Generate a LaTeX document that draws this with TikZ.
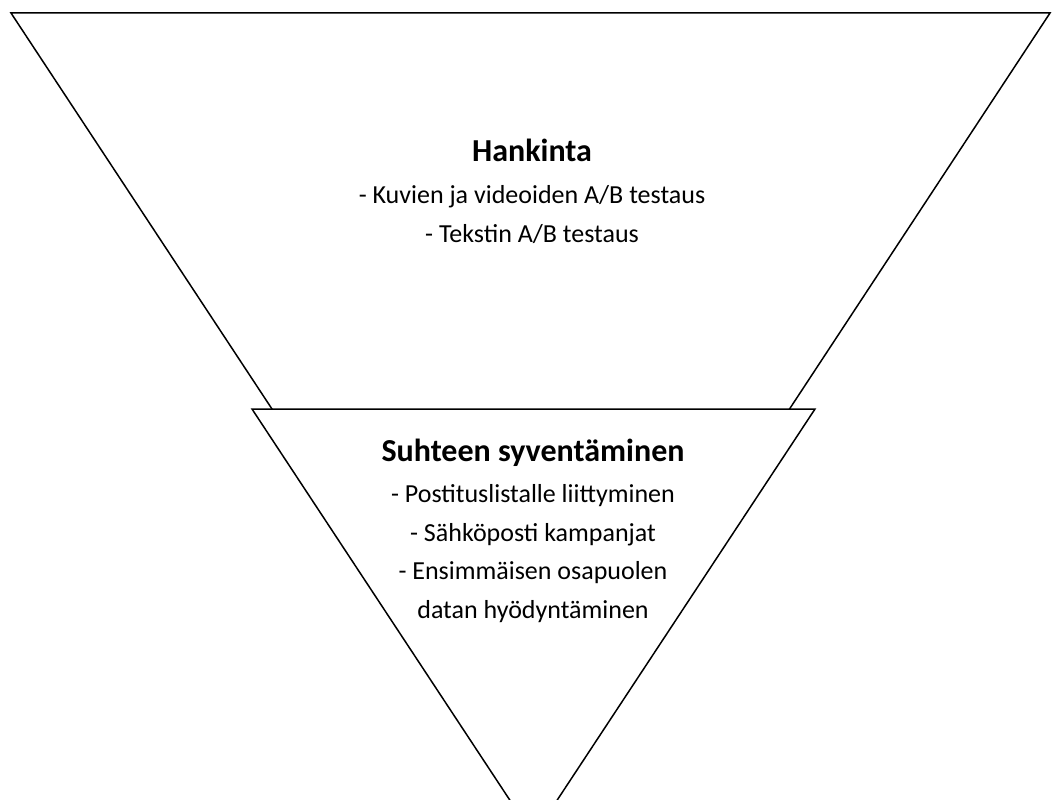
\documentclass[tikz,border=0pt]{standalone}
\usepackage{fontspec}
\setmainfont{Carlito}
\usepackage{tikz}
\usetikzlibrary{positioning}

\tikzset{
    heading/.style={font=\bfseries\fontsize{32}{38}\selectfont, anchor=base},
    items/.style={font=\fontsize{26}{38.5}\selectfont, align=center, anchor=base, inner sep=0pt}
}

\begin{document}
\begin{tikzpicture}[x=1pt, y=-1pt, line width=1.5pt, line join=miter]
            \useasboundingbox (0,0) rectangle (1052,800);
            \clip (0,0) rectangle (1052,800);
            \draw (11,13) -- (1050,13) -- (531,802) -- cycle;
            \draw[fill=white] (252,409) -- (815,409) -- (533.5,836) -- cycle;
            % base anchor sits on the last line
            \node[heading] (hankinta) at (532,161) {Hankinta};
            \node[items] (hankintaText) at (532,242) {- Kuvien ja videoiden A/B testaus\\- Tekstin A/B testaus};
            \node[heading] (suhde) at (533,461) {Suhteen syventäminen};
            \node[items] (suhdeText) at (533,618) {- Postituslistalle liittyminen\\- Sähköposti kampanjat\\- Ensimmäisen osapuolen\\datan hyödyntäminen};
        \end{tikzpicture}
\end{document}
